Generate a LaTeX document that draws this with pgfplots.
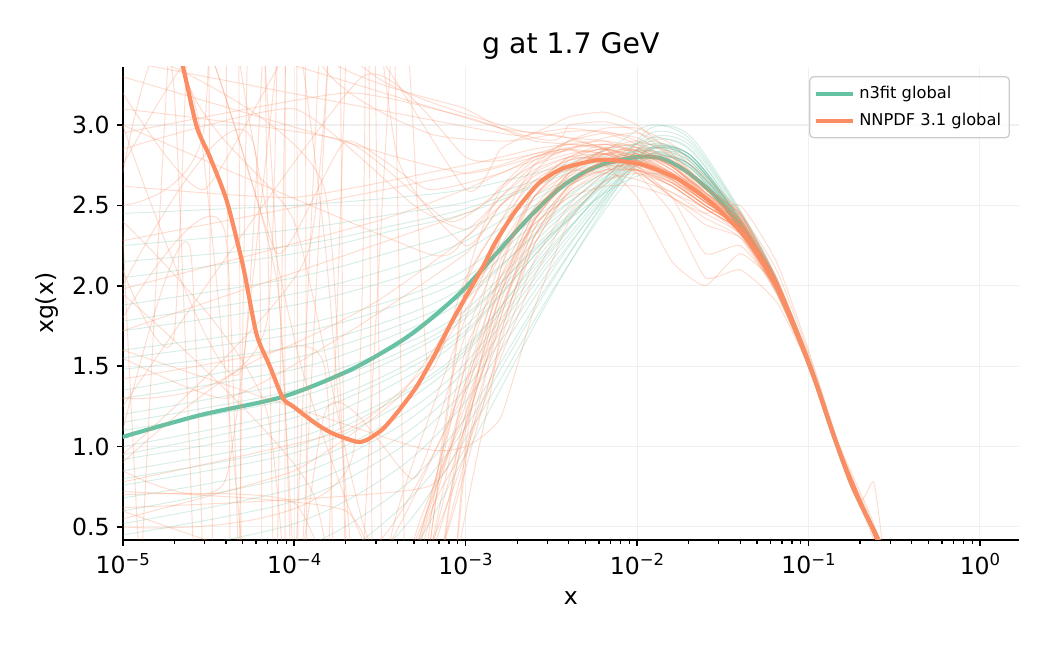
\documentclass[border=0pt]{standalone}
\usepackage{pgfplots}
\pgfplotsset{compat=1.18}
\usepackage{fontspec}
\setmainfont{DejaVu Sans}
\definecolor{n3g}{HTML}{66C2A5}
\definecolor{nnpo}{HTML}{FC8D62}
% 10^k tick labels set in the text font
\newcommand{\tp}[1]{10\raisebox{4.2pt}{\fontsize{7.9}{8}\selectfont #1}}
\pgfplotsset{
  grepstyle/.style={n3g, draw opacity=0.27, line width=0.45pt, smooth, tension=0.5, forget plot},
  orepstyle/.style={nnpo, draw opacity=0.3, line width=0.45pt, line join=round, smooth, tension=0.3, forget plot},
}
% one replica of each fit
\newcommand{\grep}[1]{\addplot[grepstyle] coordinates {#1};}
\newcommand{\orep}[1]{\addplot[orepstyle] coordinates {#1};}
\begin{document}
\begin{tikzpicture}
\fill[white] (-58.9pt,-50.4pt) rectangle (445.1pt,259.2pt);
\begin{axis}[
  name=ax, scale only axis, width=430.2pt, height=227.2pt,
  at={(0pt,0pt)}, anchor=south west,
  xmode=log, xmin=1e-5, xmax=1.688, ymin=0.419, ymax=3.363,
  axis x line*=bottom, axis y line*=left,
  axis line style={line width=0.8pt, black},
  xtick={1e-5,1e-4,1e-3,1e-2,1e-1,1},
  xticklabels={\tp{−5},\tp{−4},\tp{−3},\tp{−2},\tp{−1},\tp{0}},
  minor xtick={2e-5,3e-5,4e-5,5e-5,6e-5,7e-5,8e-5,9e-5,
               2e-4,3e-4,4e-4,5e-4,6e-4,7e-4,8e-4,9e-4,
               2e-3,3e-3,4e-3,5e-3,6e-3,7e-3,8e-3,9e-3,
               2e-2,3e-2,4e-2,5e-2,6e-2,7e-2,8e-2,9e-2,
               0.2,0.3,0.4,0.5,0.6,0.7,0.8,0.9},
  ytick={0.5,1,1.5,2,2.5,3},
  yticklabels={0.5,1.0,1.5,2.0,2.5,3.0},
  tick align=outside, major tick length=2.8pt, minor tick length=1.8pt,
  every tick/.style={line width=0.8pt, black},
  minor tick style={line width=0.6pt, black},
  ticklabel style={font=\fontsize{11.3}{13}\selectfont},
  xmajorgrids, ymajorgrids,
  major grid style={line width=0.5pt, black!6},
  legend style={at={(1,1)}, anchor=north east, xshift=-4.3pt, yshift=-4.5pt,
    draw=black!20, line width=0.6pt, rounded corners=2pt, fill=white,
    fill opacity=0.8, text opacity=1,
    font=\fontsize{7.8}{9.4}\selectfont, inner xsep=2pt, inner ysep=2.5pt,
    row sep=1.5pt},
  legend cell align=left,
  legend image code/.code={\draw[#1, line width=2pt] (0pt,0pt) -- (17.8pt,0pt);},
]
% ---------------- n3fit global: replicas ----------------
\grep{(1e-5,2.45)(1e-4,2.50)(4e-4,2.55)(1e-3,2.60)(3e-3,2.72)(7e-3,2.85)(1.2e-2,2.88)(2e-2,2.76)(3.5e-2,2.48)(6e-2,2.08)(0.1,1.54)(0.15,0.99)(0.2,0.66)(0.28,0.33)}
\grep{(1e-5,2.25)(1e-4,2.35)(4e-4,2.45)(1e-3,2.52)(3e-3,2.68)(7e-3,2.82)(1.2e-2,2.90)(2e-2,2.80)(3.5e-2,2.50)(6e-2,2.09)(0.1,1.53)(0.15,0.98)(0.2,0.65)(0.28,0.32)}
\grep{(1e-5,2.05)(1e-4,2.20)(4e-4,2.35)(1e-3,2.45)(3e-3,2.65)(7e-3,2.80)(1.2e-2,2.84)(2e-2,2.74)(3.5e-2,2.46)(6e-2,2.06)(0.1,1.51)(0.15,0.97)(0.2,0.64)(0.28,0.31)}
\grep{(1e-5,1.88)(1e-4,2.05)(4e-4,2.22)(1e-3,2.35)(3e-3,2.60)(7e-3,2.78)(1.2e-2,2.86)(2e-2,2.78)(3.5e-2,2.48)(6e-2,2.08)(0.1,1.53)(0.15,0.98)(0.2,0.65)(0.28,0.32)}
\grep{(1e-5,1.72)(1e-4,1.88)(4e-4,2.05)(1e-3,2.22)(3e-3,2.55)(7e-3,2.75)(1.2e-2,2.84)(2e-2,2.75)(3.5e-2,2.46)(6e-2,2.07)(0.1,1.52)(0.15,0.98)(0.2,0.66)(0.28,0.33)}
\grep{(1e-5,1.60)(1e-4,1.75)(4e-4,1.92)(1e-3,2.10)(3e-3,2.48)(7e-3,2.72)(1.2e-2,2.80)(2e-2,2.70)(3.5e-2,2.44)(6e-2,2.05)(0.1,1.51)(0.15,0.97)(0.2,0.64)(0.28,0.31)}
\grep{(1e-5,1.48)(1e-4,1.62)(4e-4,1.80)(1e-3,2.00)(3e-3,2.42)(7e-3,2.70)(1.2e-2,2.82)(2e-2,2.74)(3.5e-2,2.46)(6e-2,2.07)(0.1,1.52)(0.15,0.98)(0.2,0.65)(0.28,0.32)}
\grep{(1e-5,1.30)(1e-4,1.48)(4e-4,1.70)(1e-3,1.92)(3e-3,2.40)(7e-3,2.72)(1.2e-2,2.86)(2e-2,2.80)(3.5e-2,2.48)(6e-2,2.08)(0.1,1.53)(0.15,0.99)(0.2,0.66)(0.28,0.33)}
\grep{(1e-5,1.20)(1e-4,1.40)(4e-4,1.62)(1e-3,1.85)(3e-3,2.35)(7e-3,2.70)(1.2e-2,2.88)(2e-2,2.82)(3.5e-2,2.50)(6e-2,2.09)(0.1,1.54)(0.15,0.99)(0.2,0.65)(0.28,0.32)}
\grep{(1e-5,1.10)(1e-4,1.30)(4e-4,1.55)(1e-3,1.80)(3e-3,2.32)(7e-3,2.66)(1.2e-2,2.82)(2e-2,2.76)(3.5e-2,2.47)(6e-2,2.07)(0.1,1.52)(0.15,0.97)(0.2,0.64)(0.28,0.31)}
\grep{(1e-5,1.00)(1e-4,1.22)(4e-4,1.48)(1e-3,1.75)(3e-3,2.30)(7e-3,2.68)(1.2e-2,2.90)(2e-2,2.86)(3.5e-2,2.52)(6e-2,2.10)(0.1,1.54)(0.15,0.99)(0.2,0.66)(0.28,0.33)}
\grep{(1e-5,0.92)(1e-4,1.12)(4e-4,1.40)(1e-3,1.70)(3e-3,2.28)(7e-3,2.66)(1.2e-2,2.85)(2e-2,2.80)(3.5e-2,2.49)(6e-2,2.08)(0.1,1.53)(0.15,0.98)(0.2,0.65)(0.28,0.32)}
\grep{(1e-5,0.85)(1e-4,1.05)(4e-4,1.32)(1e-3,1.62)(3e-3,2.22)(7e-3,2.62)(1.2e-2,2.80)(2e-2,2.76)(3.5e-2,2.47)(6e-2,2.07)(0.1,1.52)(0.15,0.98)(0.2,0.65)(0.28,0.32)}
\grep{(1e-5,0.76)(1e-4,0.96)(4e-4,1.25)(1e-3,1.58)(3e-3,2.20)(7e-3,2.64)(1.2e-2,2.86)(2e-2,2.82)(3.5e-2,2.50)(6e-2,2.09)(0.1,1.53)(0.15,0.98)(0.2,0.66)(0.28,0.33)}
\grep{(1e-5,0.68)(1e-4,0.88)(4e-4,1.18)(1e-3,1.52)(3e-3,2.18)(7e-3,2.66)(1.2e-2,2.92)(2e-2,2.88)(3.5e-2,2.54)(6e-2,2.11)(0.1,1.55)(0.15,0.99)(0.2,0.66)(0.28,0.33)}
\grep{(1e-5,0.60)(1e-4,0.82)(4e-4,1.12)(1e-3,1.48)(3e-3,2.15)(7e-3,2.62)(1.2e-2,2.85)(2e-2,2.82)(3.5e-2,2.50)(6e-2,2.09)(0.1,1.53)(0.15,0.98)(0.2,0.65)(0.28,0.32)}
\grep{(1e-5,0.52)(1e-4,0.74)(4e-4,1.05)(1e-3,1.42)(3e-3,2.12)(7e-3,2.60)(1.2e-2,2.82)(2e-2,2.78)(3.5e-2,2.48)(6e-2,2.08)(0.1,1.52)(0.15,0.97)(0.2,0.64)(0.28,0.31)}
\grep{(1e-5,0.45)(1e-4,0.66)(4e-4,0.98)(1e-3,1.36)(3e-3,2.08)(7e-3,2.58)(1.2e-2,2.80)(2e-2,2.76)(3.5e-2,2.47)(6e-2,2.07)(0.1,1.52)(0.15,0.98)(0.2,0.65)(0.28,0.32)}
\grep{(1e-5,0.30)(1e-4,0.52)(4e-4,0.86)(1e-3,1.28)(3e-3,2.05)(7e-3,2.60)(1.2e-2,2.86)(2e-2,2.82)(3.5e-2,2.50)(6e-2,2.09)(0.1,1.53)(0.15,0.98)(0.2,0.65)(0.28,0.32)}
\grep{(1e-5,0.10)(1e-4,0.35)(4e-4,0.72)(1e-3,1.18)(3e-3,2.00)(7e-3,2.56)(1.2e-2,2.82)(2e-2,2.80)(3.5e-2,2.49)(6e-2,2.08)(0.1,1.53)(0.15,0.98)(0.2,0.65)(0.28,0.32)}
\grep{(1e-5,-0.50)(1e-4,-0.10)(4e-4,0.45)(1e-3,1.05)(3e-3,1.92)(7e-3,2.52)(1.2e-2,2.78)(2e-2,2.76)(3.5e-2,2.47)(6e-2,2.07)(0.1,1.52)(0.15,0.98)(0.2,0.65)(0.28,0.32)}
\grep{(1e-5,-1.00)(1e-4,-0.50)(4e-4,0.20)(1e-3,0.95)(3e-3,1.90)(7e-3,2.55)(1.2e-2,2.84)(2e-2,2.82)(3.5e-2,2.51)(6e-2,2.09)(0.1,1.53)(0.15,0.98)(0.2,0.65)(0.28,0.32)}
\grep{(1e-5,1.35)(1e-4,1.55)(4e-4,1.75)(1e-3,1.95)(3e-3,2.38)(7e-3,2.68)(1.2e-2,2.82)(2e-2,2.74)(3.5e-2,2.45)(6e-2,2.06)(0.1,1.52)(0.15,0.98)(0.2,0.65)(0.28,0.32)}
\grep{(1e-5,0.80)(1e-4,1.00)(4e-4,1.30)(1e-3,1.60)(3e-3,2.25)(7e-3,2.70)(1.2e-2,2.95)(2e-2,2.90)(3.5e-2,2.55)(6e-2,2.12)(0.1,1.55)(0.15,0.99)(0.2,0.66)(0.28,0.33)}
\grep{(1e-5,2.15)(1e-4,2.25)(4e-4,2.38)(1e-3,2.48)(3e-3,2.66)(7e-3,2.86)(1.2e-2,3.00)(2e-2,2.92)(3.5e-2,2.56)(6e-2,2.12)(0.1,1.55)(0.15,0.99)(0.2,0.66)(0.28,0.33)}
\grep{(1e-5,1.15)(1e-4,1.35)(4e-4,1.58)(1e-3,1.82)(3e-3,2.30)(7e-3,2.60)(1.2e-2,2.70)(2e-2,2.62)(3.5e-2,2.40)(6e-2,2.03)(0.1,1.50)(0.15,0.97)(0.2,0.64)(0.28,0.31)}
\grep{(1e-5,1.78)(1e-4,1.95)(4e-4,2.12)(1e-3,2.28)(3e-3,2.58)(7e-3,2.78)(1.2e-2,2.92)(2e-2,2.85)(3.5e-2,2.52)(6e-2,2.10)(0.1,1.54)(0.15,0.99)(0.2,0.66)(0.28,0.33)}
\grep{(1e-5,0.95)(1e-4,1.18)(4e-4,1.45)(1e-3,1.72)(3e-3,2.28)(7e-3,2.70)(1.2e-2,2.98)(2e-2,2.94)(3.5e-2,2.57)(6e-2,2.13)(0.1,1.56)(0.15,1.00)(0.2,0.67)(0.28,0.34)}
\grep{(1e-5,-0.20)(1e-4,0.15)(4e-4,0.60)(1e-3,1.12)(3e-3,1.98)(7e-3,2.58)(1.2e-2,2.85)(2e-2,2.80)(3.5e-2,2.49)(6e-2,2.08)(0.1,1.53)(0.15,0.98)(0.2,0.65)(0.28,0.32)}
\grep{(1e-5,1.55)(1e-4,1.70)(4e-4,1.88)(1e-3,2.05)(3e-3,2.45)(7e-3,2.74)(1.2e-2,2.88)(2e-2,2.80)(3.5e-2,2.49)(6e-2,2.08)(0.1,1.53)(0.15,0.98)(0.2,0.65)(0.28,0.32)}
% ---------------- n3fit global: central value ----------------
\addplot[n3g, line width=2pt, smooth, tension=0.5] coordinates {
  (1e-5,1.06)(2.82e-5,1.195)(8.6e-5,1.31)(2.11e-4,1.475)(4.12e-4,1.65)(6.2e-4,1.79)
  (9.6e-4,1.97)(1.51e-3,2.20)(2.37e-3,2.43)(3.68e-3,2.62)(5.75e-3,2.74)(9.8e-3,2.80)
  (1.4e-2,2.79)(2.01e-2,2.70)(3.15e-2,2.51)(5.15e-2,2.20)(6.6e-2,1.99)(8.9e-2,1.66)
  (0.111,1.39)(0.139,1.08)(0.181,0.75)(0.25,0.44)(0.29,0.28)};
\addlegendentry{n3fit global}
% ---------------- NNPDF 3.1 global: replicas ----------------
\orep{(1e-5,3.70)(2.5e-3,2.92)(4e-3,3.00)(6.5e-3,3.02)(1e-2,2.96)(1.6e-2,2.80)(2.5e-2,2.60)(4e-2,2.42)(6.5e-2,2.02)(0.1,1.55)(0.15,1.00)(0.22,0.57)(0.3,0.22)}
\orep{(1e-5,3.40)(1.6e-3,2.95)(2.5e-3,2.95)(4e-3,3.05)(6.5e-3,3.08)(1e-2,3.00)(1.6e-2,2.82)(2.5e-2,2.62)(4e-2,2.44)(6.5e-2,2.05)(0.1,1.56)(0.15,1.01)(0.22,0.57)(0.3,0.22)}
\orep{(1e-5,2.95)(2e-4,3.20)(1e-3,3.05)(1.6e-3,2.98)(2.5e-3,2.95)(4e-3,2.92)(6.5e-3,2.90)(1e-2,2.82)(1.6e-2,2.70)(2.5e-2,2.55)(4e-2,2.40)(6.5e-2,2.00)(0.1,1.53)(0.15,0.99)(0.22,0.56)(0.3,0.21)}
\orep{(1e-5,2.62)(1e-4,2.55)(1e-3,2.75)(1.6e-3,2.80)(2.5e-3,2.85)(4e-3,2.88)(6.5e-3,2.86)(1e-2,2.78)(1.6e-2,2.70)(2.5e-2,2.60)(4e-2,2.45)(6.5e-2,2.10)(0.1,1.58)(0.15,1.01)(0.22,0.58)(0.3,0.23)}
\orep{(1e-5,2.28)(2e-4,2.55)(1e-3,2.70)(1.6e-3,2.75)(2.5e-3,2.82)(4e-3,2.85)(6.5e-3,2.82)(1e-2,2.72)(1.6e-2,2.55)(2.5e-2,2.38)(4e-2,2.30)(6.5e-2,2.00)(0.1,1.53)(0.15,0.98)(0.22,0.56)(0.3,0.21)}
\orep{(1e-5,1.98)(3e-4,2.40)(1e-3,2.60)(1.6e-3,2.70)(2.5e-3,2.78)(4e-3,2.85)(6.5e-3,2.92)(1e-2,2.95)(1.6e-2,2.85)(2.5e-2,2.66)(4e-2,2.45)(6.5e-2,2.03)(0.1,1.54)(0.15,0.99)(0.22,0.56)(0.3,0.21)}
\orep{(1e-5,1.72)(1e-3,2.45)(1.6e-3,2.62)(2.5e-3,2.75)(4e-3,2.82)(6.5e-3,2.85)(1e-2,2.80)(1.6e-2,2.68)(2.5e-2,2.52)(4e-2,2.38)(6.5e-2,2.00)(0.1,1.53)(0.15,0.99)(0.22,0.56)(0.3,0.21)}
\orep{(1e-5,4.60)(3e-4,3.30)(1.6e-3,3.00)(2.5e-3,2.95)(4e-3,2.98)(6.5e-3,2.95)(1e-2,2.88)(1.6e-2,2.75)(2.5e-2,2.58)(4e-2,2.40)(6.5e-2,2.02)(0.1,1.54)(0.15,0.99)(0.22,0.57)(0.3,0.22)}
\orep{(1e-5,7.00)(1e-4,3.60)(1e-3,3.10)(1.6e-3,2.98)(2.5e-3,2.90)(4e-3,2.88)(6.5e-3,2.85)(1e-2,2.78)(1.6e-2,2.65)(2.5e-2,2.50)(4e-2,2.36)(6.5e-2,1.98)(0.1,1.52)(0.15,0.98)(0.22,0.56)(0.3,0.20)}
\orep{(1e-5,0.55)(1e-4,0.85)(4e-4,1.30)(1e-3,1.90)(1.6e-3,2.25)(2.5e-3,2.55)(4e-3,2.70)(6.5e-3,2.76)(1e-2,2.75)(1.6e-2,2.66)(2.5e-2,2.52)(4e-2,2.37)(6.5e-2,2.00)(0.1,1.52)(0.15,0.98)(0.22,0.55)(0.3,0.20)}
\orep{(1e-5,0.78)(2e-4,1.10)(6e-4,1.50)(1e-3,1.85)(1.6e-3,2.20)(2.5e-3,2.48)(4e-3,2.65)(6.5e-3,2.72)(1e-2,2.72)(1.6e-2,2.62)(2.5e-2,2.48)(4e-2,2.34)(6.5e-2,1.97)(0.1,1.51)(0.15,0.97)(0.22,0.55)(0.3,0.20)}
\orep{(1e-5,1.42)(8e-5,1.60)(3e-4,1.90)(1e-3,2.30)(1.6e-3,2.55)(2.5e-3,2.75)(4e-3,2.85)(6.5e-3,2.88)(1e-2,2.82)(1.6e-2,2.68)(2.5e-2,2.52)(4e-2,2.38)(6.5e-2,2.00)(0.1,1.53)(0.15,0.99)(0.22,0.56)(0.3,0.21)}
\orep{(1e-5,1.55)(4e-5,1.30)(2e-4,1.70)(1e-3,2.20)(1.6e-3,2.50)(2.5e-3,2.70)(4e-3,2.80)(6.5e-3,2.82)(1e-2,2.76)(1.6e-2,2.64)(2.5e-2,2.50)(4e-2,2.36)(6.5e-2,1.98)(0.1,1.52)(0.15,0.98)(0.22,0.56)(0.3,0.20)}
\orep{(1e-5,2.50)(3e-5,3.00)(4.5e-5,8.0)(5.5e-5,-5.0)(2e-4,-1.0)(6e-4,0.60)(1e-3,1.60)(1.6e-3,2.05)(2.5e-3,2.38)(4e-3,2.55)(6.5e-3,2.62)(1e-2,2.62)(1.6e-2,2.55)(2.5e-2,2.42)(4e-2,2.30)(6.5e-2,1.95)(0.1,1.50)(0.15,0.97)(0.22,0.55)(0.3,0.21)}
\orep{(1e-5,1.10)(2.5e-5,2.20)(4e-5,-4.0)(6e-5,6.0)(9e-5,-3.0)(3e-4,-0.5)(8e-4,1.00)(1.6e-3,2.10)(2.5e-3,2.55)(4e-3,2.78)(6.5e-3,2.86)(1e-2,2.84)(1.6e-2,2.72)(2.5e-2,2.56)(4e-2,2.40)(6.5e-2,2.02)(0.1,1.53)(0.15,0.98)(0.22,0.55)(0.3,0.20)}
\orep{(1e-5,2.00)(6e-5,2.80)(7e-5,-6.0)(4e-4,0.0)(1e-3,1.20)(1.6e-3,1.75)(2.5e-3,2.25)(4e-3,2.60)(6.5e-3,2.80)(1e-2,2.85)(1.6e-2,2.75)(2.5e-2,2.57)(4e-2,2.40)(6.5e-2,2.02)(0.1,1.53)(0.15,0.98)(0.22,0.55)(0.3,0.20)}
\orep{(1e-5,3.00)(5e-5,1.50)(1.1e-4,8.0)(1.3e-4,-5.0)(5e-4,0.20)(1e-3,1.00)(1.6e-3,1.60)(2.5e-3,2.15)(4e-3,2.50)(6.5e-3,2.70)(1e-2,2.78)(1.6e-2,2.70)(2.5e-2,2.55)(4e-2,2.36)(6.5e-2,1.99)(0.1,1.51)(0.15,0.98)(0.22,0.56)(0.3,0.21)}
\orep{(1e-5,-2.0)(3.5e-5,8.0)(5e-5,-6.0)(1.7e-4,5.0)(2.2e-4,-3.0)(7e-4,0.80)(1.6e-3,2.30)(2.5e-3,2.70)(4e-3,2.90)(6.5e-3,2.98)(1e-2,2.98)(1.6e-2,2.88)(2.5e-2,2.68)(4e-2,2.46)(6.5e-2,2.04)(0.1,1.54)(0.15,0.99)(0.22,0.57)(0.3,0.22)}
\orep{(1e-5,0.90)(1.5e-4,1.50)(1.8e-4,-5.0)(6e-4,0.20)(1.6e-3,1.80)(2.5e-3,2.35)(4e-3,2.62)(6.5e-3,2.75)(1e-2,2.78)(1.6e-2,2.70)(2.5e-2,2.55)(4e-2,2.38)(6.5e-2,2.00)(0.1,1.52)(0.15,0.98)(0.22,0.56)(0.3,0.21)}
\orep{(1e-5,5.0)(8e-5,2.00)(1.2e-4,-3.0)(3e-4,8.0)(5e-4,-2.0)(1e-3,1.00)(1.6e-3,2.10)(2.5e-3,2.60)(4e-3,2.80)(6.5e-3,2.85)(1e-2,2.80)(1.6e-2,2.66)(2.5e-2,2.50)(4e-2,2.36)(6.5e-2,1.98)(0.1,1.52)(0.15,0.98)(0.22,0.56)(0.3,0.20)}
\orep{(1e-5,1.30)(7e-5,1.80)(9e-5,8.0)(1e-4,-4.0)(1.2e-3,1.00)(1.6e-3,1.70)(2.5e-3,2.30)(4e-3,2.62)(6.5e-3,2.78)(1e-2,2.82)(1.6e-2,2.72)(2.5e-2,2.55)(4e-2,2.38)(6.5e-2,2.01)(0.1,1.52)(0.15,0.98)(0.22,0.55)(0.3,0.20)}
\orep{(1e-5,9.0)(4.8e-5,3.40)(1.1e-4,1.50)(3e-4,0.30)(1e-3,1.40)(1.6e-3,2.00)(2.5e-3,2.45)(4e-3,2.70)(6.5e-3,2.82)(1e-2,2.84)(1.6e-2,2.74)(2.5e-2,2.56)(4e-2,2.38)(6.5e-2,2.00)(0.1,1.52)(0.15,0.98)(0.22,0.56)(0.3,0.21)}
\orep{(1e-5,2.70)(2e-5,3.20)(5.5e-5,-8.0)(1e-4,6.0)(1.2e-4,-6.0)(8e-4,0.60)(1.6e-3,1.95)(2.5e-3,2.45)(4e-3,2.68)(6.5e-3,2.75)(1e-2,2.72)(1.6e-2,2.62)(2.5e-2,2.48)(4e-2,2.34)(6.5e-2,1.97)(0.1,1.51)(0.15,0.97)(0.22,0.55)(0.3,0.20)}
\orep{(1e-5,0.70)(1e-4,0.65)(3e-4,-0.40)(1e-3,1.50)(1.6e-3,2.15)(2.5e-3,2.55)(4e-3,2.75)(6.5e-3,2.82)(1e-2,2.80)(1.6e-2,2.68)(2.5e-2,2.52)(4e-2,2.37)(6.5e-2,1.99)(0.1,1.52)(0.15,0.98)(0.22,0.56)(0.3,0.21)}
\orep{(1e-5,0.72)(2e-4,0.60)(5e-4,-0.20)(1.6e-3,1.80)(2.5e-3,2.40)(4e-3,2.70)(6.5e-3,2.85)(1e-2,2.88)(1.6e-2,2.78)(2.5e-2,2.60)(4e-2,2.42)(6.5e-2,2.03)(0.1,1.54)(0.15,0.99)(0.22,0.56)(0.3,0.21)}
\orep{(1e-5,-1.0)(1e-4,-0.50)(6e-4,0.30)(1e-3,1.10)(1.6e-3,1.90)(2.5e-3,2.40)(4e-3,2.65)(6.5e-3,2.74)(1e-2,2.74)(1.6e-2,2.64)(2.5e-2,2.50)(4e-2,2.36)(6.5e-2,1.98)(0.1,1.52)(0.15,0.98)(0.22,0.56)(0.3,0.20)}
\orep{(1e-5,-3.0)(3e-4,-0.80)(8e-4,0.50)(1.6e-3,1.65)(2.5e-3,2.25)(4e-3,2.58)(6.5e-3,2.72)(1e-2,2.76)(1.6e-2,2.68)(2.5e-2,2.52)(4e-2,2.36)(6.5e-2,1.99)(0.1,1.52)(0.15,0.98)(0.22,0.56)(0.3,0.21)}
\orep{(1e-5,0.60)(4e-4,0.10)(1.2e-3,1.20)(1.6e-3,1.55)(2.5e-3,2.05)(4e-3,2.45)(6.5e-3,2.65)(1e-2,2.70)(1.6e-2,2.62)(2.5e-2,2.48)(4e-2,2.34)(6.5e-2,1.97)(0.1,1.51)(0.15,0.97)(0.22,0.55)(0.3,0.20)}
\orep{(1e-5,3.50)(1.5e-4,2.60)(2.5e-4,-2.0)(7e-4,0.90)(1e-3,2.00)(1.6e-3,2.40)(2.5e-3,2.75)(4e-3,2.90)(6.5e-3,2.85)(1e-2,2.70)(1.6e-2,2.45)(2.5e-2,2.05)(4e-2,2.10)(6.5e-2,1.90)(0.1,1.50)(0.15,0.98)(0.22,0.60)(0.3,0.24)}
\orep{(1e-5,1.80)(4e-5,2.30)(6.5e-5,-4.0)(2.5e-4,7.0)(3.5e-4,-1.0)(1e-3,2.00)(1.6e-3,2.60)(2.5e-3,2.80)(4e-3,2.85)(6.5e-3,2.75)(1e-2,2.55)(1.6e-2,2.15)(2.5e-2,2.00)(4e-2,2.20)(6.5e-2,2.00)(0.1,1.53)(0.15,0.98)(0.22,0.56)(0.3,0.21)}
\orep{(1e-5,3.20)(3e-5,2.60)(1.6e-4,3.80)(1e-3,2.60)(1.6e-3,2.85)(2.5e-3,2.95)(4e-3,2.92)(6.5e-3,2.85)(1e-2,2.72)(1.6e-2,2.55)(2.5e-2,2.45)(4e-2,2.50)(6.5e-2,2.15)(0.1,1.60)(0.15,1.02)(0.22,0.62)(0.3,0.26)}
\orep{(1e-5,2.40)(7e-5,1.20)(1.6e-4,-3.0)(4e-4,4.0)(6e-4,1.50)(1e-3,2.05)(1.6e-3,2.40)(2.5e-3,2.65)(4e-3,2.78)(6.5e-3,2.80)(1e-2,2.74)(1.6e-2,2.55)(2.5e-2,2.20)(4e-2,2.25)(6.5e-2,1.98)(0.1,1.52)(0.15,0.98)(0.22,0.56)(0.3,0.21)}
\orep{(1e-5,0.95)(1.2e-4,2.20)(2e-4,5.0)(4e-4,2.80)(1e-3,2.25)(1.6e-3,2.50)(2.5e-3,2.65)(4e-3,2.72)(6.5e-3,2.70)(1e-2,2.66)(1.6e-2,2.58)(2.5e-2,2.48)(4e-2,2.32)(6.5e-2,1.96)(0.1,1.50)(0.15,0.96)(0.22,0.52)(0.3,0.18)}
\orep{(1e-5,6.0)(6e-5,4.0)(1.4e-4,-2.0)(6e-4,0.50)(1.2e-3,1.60)(1.6e-3,2.00)(2.5e-3,2.40)(4e-3,2.68)(6.5e-3,2.82)(1e-2,2.86)(1.6e-2,2.78)(2.5e-2,2.58)(4e-2,2.40)(6.5e-2,2.02)(0.1,1.53)(0.15,1.00)(0.2,0.66)(0.24,0.78)(0.27,0.40)(0.3,0.15)}
\orep{(1e-5,2.10)(2e-5,1.70)(3e-5,6.0)(3.8e-5,-3.0)(1.5e-4,1.20)(5e-4,0.80)(1e-3,1.70)(1.6e-3,2.20)(2.5e-3,2.55)(4e-3,2.75)(6.5e-3,2.84)(1e-2,2.84)(1.6e-2,2.74)(2.5e-2,2.58)(4e-2,2.42)(6.5e-2,2.04)(0.1,1.55)(0.15,1.00)(0.22,0.57)(0.3,0.22)}
\orep{(1e-5,0.50)(2.2e-4,0.95)(2.6e-4,7.0)(3.2e-4,-4.0)(1e-3,0.90)(1.6e-3,1.70)(2.5e-3,2.30)(4e-3,2.62)(6.5e-3,2.78)(1e-2,2.82)(1.6e-2,2.74)(2.5e-2,2.56)(4e-2,2.38)(6.5e-2,2.00)(0.1,1.52)(0.15,0.98)(0.22,0.56)(0.3,0.21)}
\orep{(1e-5,3.10)(2e-4,2.90)(8e-4,2.40)(1.6e-3,2.60)(2.5e-3,2.78)(4e-3,2.90)(6.5e-3,2.95)(1e-2,2.92)(1.6e-2,2.80)(2.5e-2,2.62)(4e-2,2.44)(6.5e-2,2.05)(0.1,1.55)(0.15,1.00)(0.22,0.57)(0.3,0.22)}
\orep{(1e-5,1.95)(1.3e-4,0.70)(3.3e-4,-2.0)(9e-4,1.00)(1.6e-3,1.85)(2.5e-3,2.35)(4e-3,2.62)(6.5e-3,2.72)(1e-2,2.72)(1.6e-2,2.64)(2.5e-2,2.50)(4e-2,2.35)(6.5e-2,1.98)(0.1,1.51)(0.15,0.97)(0.22,0.55)(0.3,0.20)}
\orep{(1e-5,4.00)(2.8e-5,3.00)(9e-5,-2.0)(4e-4,0.60)(1e-3,1.80)(1.6e-3,2.30)(2.5e-3,2.62)(4e-3,2.80)(6.5e-3,2.88)(1e-2,2.86)(1.6e-2,2.74)(2.5e-2,2.58)(4e-2,2.40)(6.5e-2,2.02)(0.1,1.53)(0.15,0.99)(0.22,0.57)(0.3,0.22)}
\orep{(1e-5,1.60)(5e-4,1.00)(1e-3,1.00)(1.6e-3,1.18)(2.5e-3,1.85)(4e-3,2.40)(6.5e-3,2.65)(1e-2,2.72)(1.6e-2,2.66)(2.5e-2,2.52)(4e-2,2.36)(6.5e-2,1.98)(0.1,1.52)(0.15,0.98)(0.22,0.56)(0.3,0.21)}
\orep{(1e-5,2.85)(1e-4,3.10)(5e-4,2.50)(1e-3,2.35)(1.6e-3,2.55)(2.5e-3,2.72)(4e-3,2.80)(6.5e-3,2.78)(1e-2,2.70)(1.6e-2,2.58)(2.5e-2,2.45)(4e-2,2.32)(6.5e-2,1.96)(0.1,1.50)(0.15,0.97)(0.22,0.55)(0.3,0.20)}
\orep{(1e-5,8.0)(2.2e-5,3.40)(1e-4,2.40)(2.8e-4,0.40)(1e-3,1.35)(1.6e-3,1.95)(2.5e-3,2.42)(4e-3,2.70)(6.5e-3,2.85)(1e-2,2.90)(1.6e-2,2.82)(2.5e-2,2.62)(4e-2,2.44)(6.5e-2,2.04)(0.1,1.55)(0.15,0.99)(0.22,0.56)(0.3,0.21)}
\orep{(1e-5,3.30)(4e-4,2.80)(1e-3,2.70)(1.6e-3,2.74)(2.5e-3,2.80)(4e-3,2.86)(6.5e-3,2.88)(1e-2,2.84)(1.6e-2,2.72)(2.5e-2,2.56)(4e-2,2.40)(6.5e-2,2.01)(0.1,1.53)(0.15,0.98)(0.22,0.56)(0.3,0.21)}
\orep{(1e-5,5.50)(1.5e-4,3.35)(6e-4,2.95)(1.6e-3,2.90)(2.5e-3,2.92)(4e-3,2.96)(6.5e-3,2.96)(1e-2,2.90)(1.6e-2,2.76)(2.5e-2,2.58)(4e-2,2.41)(6.5e-2,2.02)(0.1,1.54)(0.15,0.99)(0.22,0.57)(0.3,0.22)}
\orep{(1e-5,2.75)(3e-5,3.50)(8e-5,2.20)(2e-4,2.90)(6e-4,2.60)(1.6e-3,2.70)(2.5e-3,2.80)(4e-3,2.84)(6.5e-3,2.82)(1e-2,2.74)(1.6e-2,2.62)(2.5e-2,2.48)(4e-2,2.34)(6.5e-2,1.97)(0.1,1.51)(0.15,0.97)(0.22,0.55)(0.3,0.20)}
\orep{(1e-5,3.00)(6e-4,2.20)(1e-3,2.30)(1.6e-3,2.50)(2.5e-3,2.68)(4e-3,2.78)(6.5e-3,2.82)(1e-2,2.78)(1.6e-2,2.66)(2.5e-2,2.52)(4e-2,2.37)(6.5e-2,1.99)(0.1,1.52)(0.15,0.98)(0.22,0.56)(0.3,0.21)}
\orep{(1e-5,1.25)(2.5e-4,3.30)(1e-3,2.80)(1.6e-3,2.78)(2.5e-3,2.82)(4e-3,2.88)(6.5e-3,2.90)(1e-2,2.86)(1.6e-2,2.74)(2.5e-2,2.57)(4e-2,2.40)(6.5e-2,2.02)(0.1,1.53)(0.15,0.99)(0.22,0.56)(0.3,0.21)}
\orep{(1e-5,0.85)(4e-5,0.80)(9e-5,3.80)(1.5e-4,2.30)(3e-4,-1.0)(1e-3,1.40)(1.6e-3,2.05)(2.5e-3,2.48)(4e-3,2.72)(6.5e-3,2.82)(1e-2,2.82)(1.6e-2,2.70)(2.5e-2,2.54)(4e-2,2.38)(6.5e-2,2.00)(0.1,1.52)(0.15,0.98)(0.22,0.56)(0.3,0.21)}
\orep{(1e-5,2.35)(1.8e-5,-2.0)(1e-4,-1.0)(5e-4,0.40)(1.2e-3,1.50)(1.6e-3,1.95)(2.5e-3,2.40)(4e-3,2.66)(6.5e-3,2.78)(1e-2,2.80)(1.6e-2,2.70)(2.5e-2,2.55)(4e-2,2.38)(6.5e-2,2.00)(0.1,1.52)(0.15,0.98)(0.22,0.56)(0.3,0.21)}
\orep{(1e-5,0.62)(6e-4,0.75)(1.2e-3,1.40)(1.6e-3,1.85)(2.5e-3,2.30)(4e-3,2.58)(6.5e-3,2.70)(1e-2,2.72)(1.6e-2,2.64)(2.5e-2,2.50)(4e-2,2.35)(6.5e-2,1.98)(0.1,1.51)(0.15,0.97)(0.22,0.55)(0.3,0.20)}
% ---------------- NNPDF 3.1 global: central value ----------------
\addplot[nnpo, line width=2pt, line join=round, smooth, tension=0.4] coordinates {
  (1.8e-5,3.78)(2.25e-5,3.36)(2.7e-5,2.99)(3.23e-5,2.80)(4.04e-5,2.53)(5.04e-5,2.12)
  (6.03e-5,1.70)(7.21e-5,1.50)(8.61e-5,1.30)(9.86e-5,1.25)(1.35e-4,1.14)(1.69e-4,1.08)
  (2.31e-4,1.03)(2.64e-4,1.04)(3.30e-4,1.11)(4.12e-4,1.23)(5.16e-4,1.37)(6.45e-4,1.55)
  (8.06e-4,1.75)(1.0e-3,1.93)(1.25e-3,2.11)(1.51e-3,2.28)(1.97e-3,2.47)(2.69e-3,2.64)
  (3.68e-3,2.73)(5.75e-3,2.78)(7.5e-3,2.78)(1.1e-2,2.75)(1.76e-2,2.66)(2.75e-2,2.51)
  (4.3e-2,2.30)(6.6e-2,1.99)(8.9e-2,1.66)(0.111,1.39)(0.139,1.08)(0.181,0.75)
  (0.25,0.44)(0.29,0.28)};
\addlegendentry{NNPDF 3.1 global}
\end{axis}
\node[font=\fontsize{13.6}{16}\selectfont, anchor=base] at ([yshift=6.4pt]ax.north) {g at 1.7 GeV};
\node[font=\fontsize{11.3}{13}\selectfont, anchor=base] at ([yshift=-31.2pt]ax.south) {x};
\node[font=\fontsize{11.3}{13}\selectfont, rotate=90, anchor=base] at ([xshift=-33.3pt]ax.west) {xg(x)};
\pgfresetboundingbox
\path[use as bounding box] (-58.9pt,-50.4pt) rectangle (445.1pt,259.2pt);
\end{tikzpicture}
\end{document}
